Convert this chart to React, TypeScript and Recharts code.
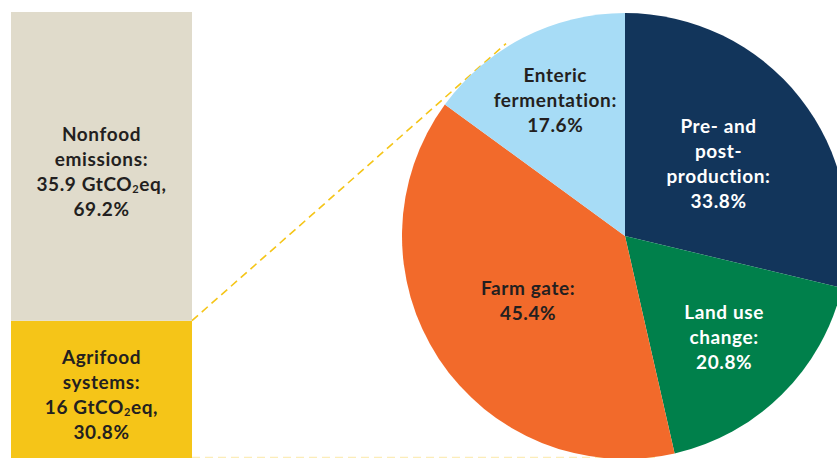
import { Bar, BarChart, Cell, LabelList, Pie, PieChart, XAxis, YAxis } from "recharts"

// left stacked bar: share of total emissions
const barCategories = ["Total emissions"]
const agrifoodShare = [30.8]
const nonfoodShare = [69.2]
const agrifoodGt = ["16"]
const nonfoodGt = ["35.9"]

// right pie: agrifood systems breakdown
const sliceNames = ["Pre- and post-production", "Land use change", "Farm gate", "Enteric fermentation"]
const sliceValues = [33.8, 20.8, 45.4, 17.6]
const sliceLines = [["Pre- and", "post-", "production:"], ["Land use", "change:"], ["Farm gate:"], ["Enteric", "fermentation:"]]

const W = 837
const H = 458
const FONT = "Lato, 'Open Sans', sans-serif"
const DARK = "#231f20"
const LINE_H = 25
const FS = 19
const LS = 0.6

const sliceColors = ["#12355b", "#00804b", "#f26a2b", "#a7dcf6"]
const sliceText = ["#ffffff", "#ffffff", DARK, DARK]
const sliceLabelR = [0.534, 0.632, 0.52, 0.69]

const BAR_TOP = 12
const BAR_LEFT = 11
const BAR_RIGHT = 192
const PIE_CX = 625
const PIE_CY = 236
const PIE_R = 223

const barData = barCategories.map((c, i) => ({
    category: c,
    agrifood: agrifoodShare[i],
    nonfood: nonfoodShare[i],
}))

const pieData = sliceNames.map((n, i) => ({ name: n, value: sliceValues[i] }))

const RADIAN = Math.PI / 180

function Co2Line({ gt }: { gt: string }) {
    return (
        <>
            {gt} GtCO
            <tspan fontSize={11} dy={5}>2</tspan>
            <tspan dy={-5}>eq,</tspan>
        </>
    )
}

function makeBarLabel(title: string[], gts: string[], shares: number[]) {
    return (props: any) => {
        const { x, y, width, height, index } = props
        const cx = x + width / 2
        const cy = y + height / 2 + 4
        const n = title.length + 2
        const y0 = cy - ((n - 1) * LINE_H) / 2
        return (
            <text
                x={cx}
                y={y0}
                textAnchor="middle"
                dominantBaseline="central"
                fontFamily={FONT}
                fontWeight={700}
                fontSize={FS}
                letterSpacing={LS}
                fill={DARK}
            >
                {title.map((t, i) => (
                    <tspan key={i} x={cx} y={y0 + i * LINE_H}>{t}</tspan>
                ))}
                <tspan x={cx} y={y0 + title.length * LINE_H}>
                    <Co2Line gt={gts[index]} />
                </tspan>
                <tspan x={cx} y={y0 + (title.length + 1) * LINE_H}>{shares[index].toFixed(1)}%</tspan>
            </text>
        )
    }
}

function renderSliceLabel(props: any) {
    const { cx, cy, midAngle, outerRadius, index } = props
    const r = outerRadius * sliceLabelR[index]
    const lx = cx + r * Math.cos(-midAngle * RADIAN)
    const ly = cy + r * Math.sin(-midAngle * RADIAN)
    const lines = [...sliceLines[index], `${sliceValues[index].toFixed(1)}%`]
    const y0 = ly - ((lines.length - 1) * LINE_H) / 2
    return (
        <text
            key={index}
            textAnchor="middle"
            dominantBaseline="central"
            fontFamily={FONT}
            fontWeight={700}
            fontSize={FS}
            letterSpacing={LS}
            fill={sliceText[index]}
        >
            {lines.map((t, i) => (
                <tspan key={i} x={lx} y={y0 + i * LINE_H}>{t}</tspan>
            ))}
        </text>
    )
}

export default function App() {
    // connector: from top of agrifood segment, tangent to the pie
    const plotH = H - BAR_TOP
    const total = agrifoodShare[0] + nonfoodShare[0]
    const px = BAR_RIGHT
    const py = BAR_TOP + plotH * (1 - agrifoodShare[0] / total)
    const dx = PIE_CX - px
    const dy = PIE_CY - py
    const d = Math.hypot(dx, dy)
    const base = Math.atan2(dy, dx)
    const a = base - Math.asin(PIE_R / d)
    const len = Math.sqrt(d * d - PIE_R * PIE_R) * 1.1
    const ex = px + len * Math.cos(a)
    const ey = py + len * Math.sin(a)

    return (
        <div style={{ position: "absolute", left: 0, top: 0, width: W, height: H, background: "#fff" }}>
            <div style={{ position: "absolute", left: 0, top: 0 }}>
                <BarChart
                    width={BAR_RIGHT}
                    height={H}
                    data={barData}
                    margin={{ top: BAR_TOP, right: 0, bottom: 0, left: BAR_LEFT }}
                    barCategoryGap={0}
                >
                    <XAxis dataKey="category" hide />
                    <YAxis hide domain={[0, total]} />
                    <Bar dataKey="agrifood" stackId="s" fill="#f5c518" isAnimationActive={false}>
                        <LabelList content={makeBarLabel(["Agrifood", "systems:"], agrifoodGt, agrifoodShare)} />
                    </Bar>
                    <Bar dataKey="nonfood" stackId="s" fill="#e0dbcb" isAnimationActive={false}>
                        <LabelList content={makeBarLabel(["Nonfood", "emissions:"], nonfoodGt, nonfoodShare)} />
                    </Bar>
                </BarChart>
            </div>
            <svg width={W} height={H} style={{ position: "absolute", left: 0, top: 0 }}>
                <line x1={px} y1={py} x2={ex} y2={ey} stroke="#f5c518" strokeWidth={1.6} strokeDasharray="8 5" />
                <line x1={px} y1={H - 0.5} x2={PIE_CX + 30} y2={H - 0.5} stroke="#f5c518" strokeOpacity={0.3} strokeWidth={1.5} strokeDasharray="8 5" />
            </svg>
            <div style={{ position: "absolute", left: 0, top: 0 }}>
                <PieChart width={W} height={H} margin={{ top: 0, right: 0, bottom: 0, left: 0 }}>
                    <Pie
                        data={pieData}
                        dataKey="value"
                        nameKey="name"
                        cx={PIE_CX}
                        cy={PIE_CY}
                        outerRadius={PIE_R}
                        startAngle={90}
                        endAngle={-270}
                        stroke="none"
                        labelLine={false}
                        label={renderSliceLabel}
                        isAnimationActive={false}
                    >
                        {pieData.map((e, i) => (
                            <Cell key={e.name} fill={sliceColors[i]} />
                        ))}
                    </Pie>
                </PieChart>
            </div>
        </div>
    )
}
